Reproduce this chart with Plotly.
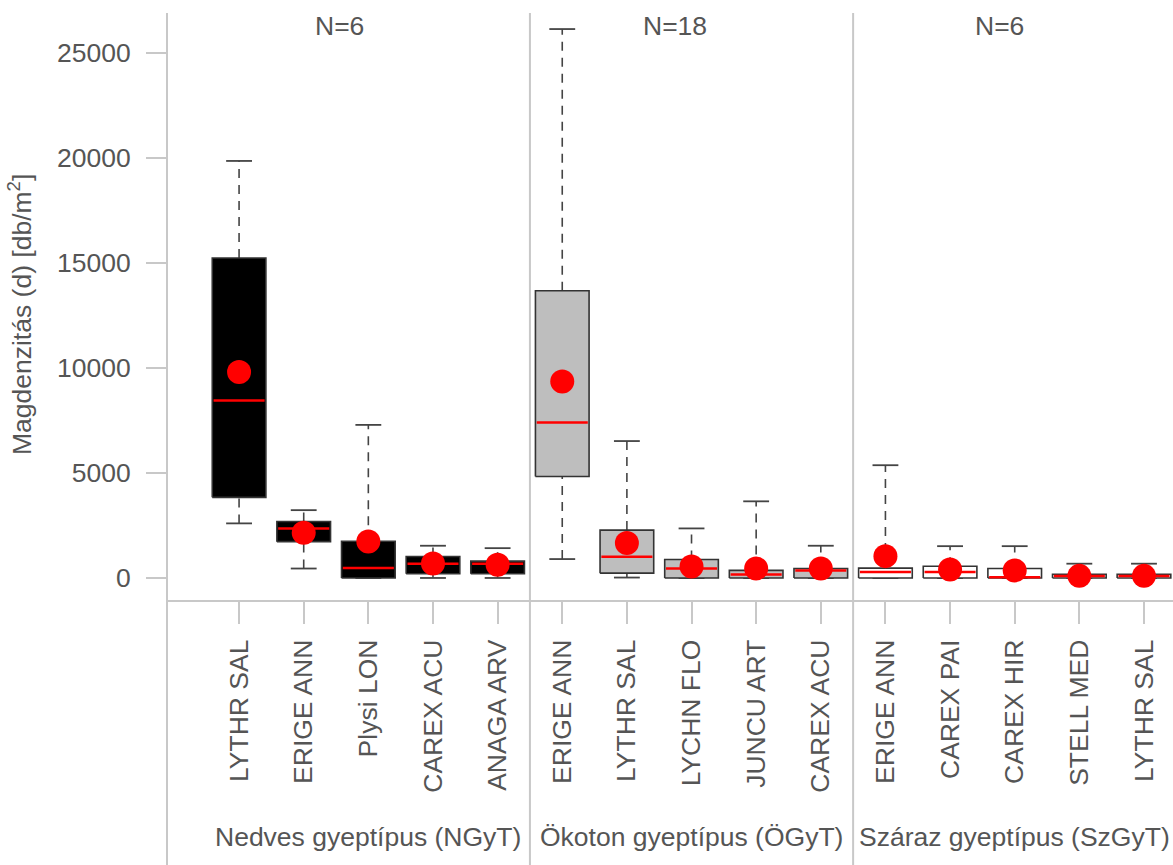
import plotly.graph_objects as go

# Species codes in plot order, three grassland types of five species each
categories = ["LYTHR SAL", "ERIGE ANN", "Plysi LON", "CAREX ACU", "ANAGA ARV",
              "ERIGE ANN", "LYTHR SAL", "LYCHN FLO", "JUNCU ART", "CAREX ACU",
              "ERIGE ANN", "CAREX PAI", "CAREX HIR", "STELL MED", "LYTHR SAL"]
group_names = ["Nedves gyeptípus (NGyT)", "Ökoton gyeptípus (ÖGyT)", "Száraz gyeptípus (SzGyT)"]
group_n = [6, 18, 6]
group_size = 5

# Box statistics: seed density (db/m2)
upper = [19860, 3230, 7290, 1535, 1420, 26140, 6520, 2360, 3650, 1535, 5370, 1515, 1515, 680, 680]
q3 = [15240, 2690, 1750, 1025, 800, 13680, 2280, 880, 360, 450, 470, 560, 450, 180, 180]
median = [8450, 2360, 470, 680, 680, 7400, 1010, 450, 170, 360, 280, 280, 40, 90, 90]
q1 = [3840, 1730, 0, 200, 200, 4830, 230, 0, 0, 0, 0, 0, 0, 0, 0]
lower = [2600, 450, 0, 0, 0, 900, 20, 0, 0, 0, 0, 0, 0, 0, 0]
mean = [9810, 2150, 1740, 690, 630, 9360, 1660, 550, 450, 450, 1040, 400, 360, 100, 100]

y_ticks = [0, 5000, 10000, 15000, 20000, 25000]
y_tick_text = ["0", "5000", "10000", "15000", "20000", "25000"]

group_fill = ["#000000", "#bebebe", "#ffffff"]

TEXT = "#555555"
AXIS = "#c8c8c8"
FONT = "Liberation Sans, Arial, sans-serif"
FS = 26.5

x_range = [-1.115, 14.449]
y_range = [-1049, 26905]
half_box = 0.415
half_cap = 0.2

fig = go.Figure()
xs = list(range(len(categories)))

# whiskers (dashed) and caps
for i in xs:
    for a, b in ((q3[i], upper[i]), (lower[i], q1[i])):
        fig.add_trace(go.Scatter(x=[i, i], y=[a, b], mode="lines",
                                 line=dict(color="#444444", width=1.6, dash="9px,7px"),
                                 hoverinfo="skip", showlegend=False))
    for v in (upper[i], lower[i]):
        fig.add_trace(go.Scatter(x=[i - half_cap, i + half_cap], y=[v, v], mode="lines",
                                 line=dict(color="#444444", width=1.8),
                                 hoverinfo="skip", showlegend=False))

# boxes
for i in xs:
    fill = group_fill[i // group_size]
    fig.add_trace(go.Scatter(
        x=[i - half_box, i + half_box, i + half_box, i - half_box, i - half_box],
        y=[q1[i], q1[i], q3[i], q3[i], q1[i]],
        mode="lines", fill="toself", fillcolor=fill,
        line=dict(color="#333333", width=1.6),
        hoverinfo="skip", showlegend=False))

# medians
for i in xs:
    fig.add_trace(go.Scatter(x=[i - half_box + 0.02, i + half_box - 0.02], y=[median[i], median[i]],
                             mode="lines", line=dict(color="#ff0000", width=2.5),
                             hoverinfo="skip", showlegend=False))

# means
fig.add_trace(go.Scatter(x=xs, y=mean, mode="markers",
                         marker=dict(color="#ff0000", size=24, line=dict(width=0)),
                         showlegend=False))

def px_x(v):
    return (v - x_range[0]) / (x_range[1] - x_range[0])

shapes = [dict(type="line", xref="paper", yref="paper", x0=0, x1=0, y0=-0.46, y1=1,
               line=dict(color=AXIS, width=2))]
for g in range(1, len(group_names)):
    xb = px_x(g * group_size - 0.5)
    shapes.append(dict(type="line", xref="paper", yref="paper", x0=xb, x1=xb, y0=-0.46, y1=1,
                       line=dict(color=AXIS, width=2)))

annotations = []
n_pos = [1.56, 6.75, 11.77]
for g, name in enumerate(group_names):
    annotations.append(dict(x=g * group_size + 2, y=-0.4037, xref="x", yref="paper",
                            text=name, showarrow=False, xanchor="center", yanchor="middle",
                            font=dict(family=FONT, size=FS, color=TEXT)))
    annotations.append(dict(x=n_pos[g], y=0.978, xref="x", yref="paper",
                            text=f"N={group_n[g]}", showarrow=False, xanchor="center", yanchor="middle",
                            font=dict(family=FONT, size=FS, color=TEXT)))
annotations.append(dict(x=-0.1461, y=0.4855, xref="paper", yref="paper",
                        text="Magdenzitás (d) [db/m<sup>2</sup>]", textangle=-90, showarrow=False,
                        xanchor="center", yanchor="middle",
                        font=dict(family=FONT, size=FS, color=TEXT)))

fig.update_layout(
    width=1173, height=865,
    margin=dict(l=167, r=0, t=13, b=265),
    paper_bgcolor="white", plot_bgcolor="white",
    shapes=shapes, annotations=annotations,
    xaxis=dict(range=x_range, tickvals=xs, ticktext=categories, tickangle=-90,
               ticks="outside", ticklen=22, tickwidth=2, tickcolor=AXIS,
               ticklabelstandoff=5,
               showline=True, linecolor=AXIS, linewidth=2, showgrid=False, zeroline=False,
               tickfont=dict(family=FONT, size=FS, color=TEXT)),
    yaxis=dict(range=y_range, tickvals=y_ticks, ticktext=y_tick_text,
               ticks="outside", ticklen=20, tickwidth=2, tickcolor=AXIS,
               ticklabelstandoff=10,
               showline=False, showgrid=False, zeroline=False,
               tickfont=dict(family=FONT, size=FS, color=TEXT)),
)

fig.write_html("out.html")
